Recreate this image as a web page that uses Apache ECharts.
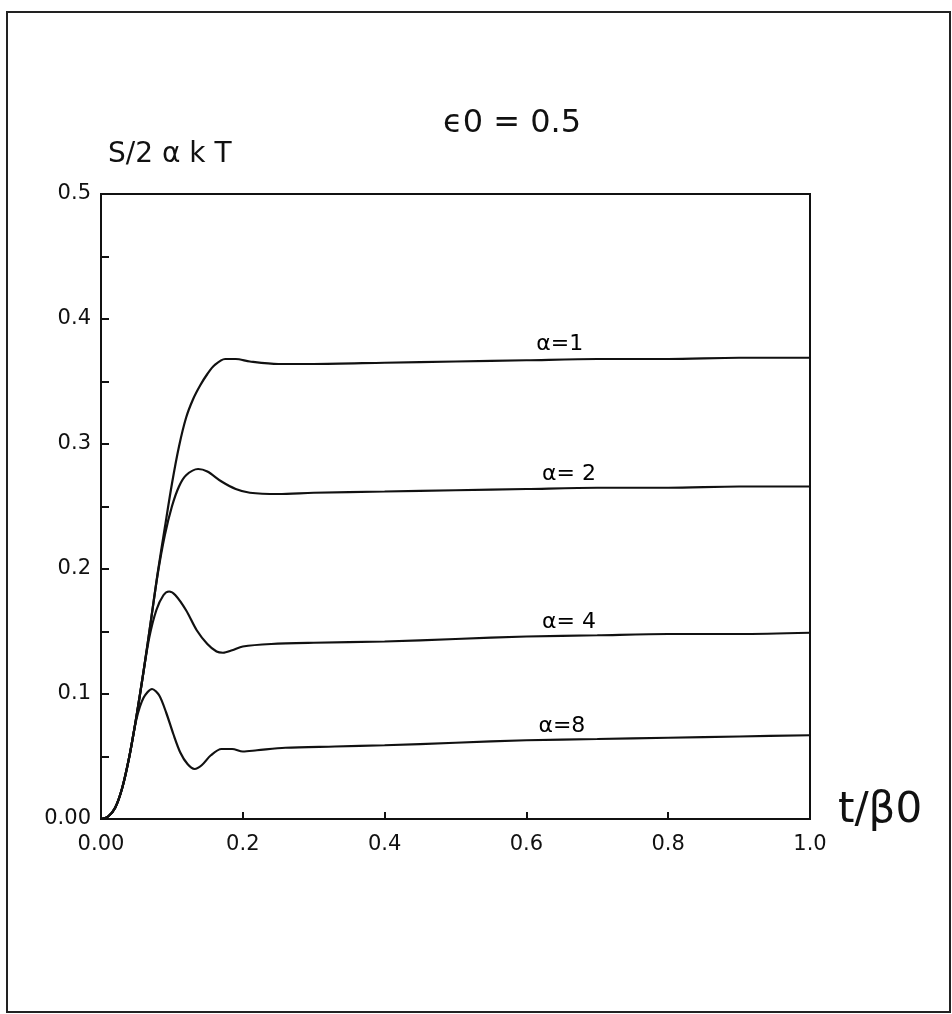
<!DOCTYPE html>
<html>
<head>
<meta charset="utf-8">
<script src="https://cdn.jsdelivr.net/npm/echarts@6/dist/echarts.min.js"></script>
<style>
html,body{margin:0;padding:0;background:#fff;}
#chart{width:952px;height:1014px;}
</style>
</head>
<body>
<div id="chart"></div>
<script>
// ---- data ----
var xTickLabels = ['0.00', '0.2', '0.4', '0.6', '0.8', '1.0'];
var yTickLabels = ['0.00', '0.1', '0.2', '0.3', '0.4', '0.5'];

var alpha1 = [[0,0],[0.01,0.002],[0.02,0.009],[0.03,0.025],[0.04,0.05],[0.05,0.082],[0.06,0.118],[0.07,0.157],[0.08,0.197],[0.09,0.233],[0.1,0.268],[0.11,0.298],[0.12,0.321],[0.13,0.336],[0.14,0.347],[0.15,0.356],[0.16,0.363],[0.175,0.368],[0.19,0.368],[0.21,0.366],[0.25,0.364],[0.3,0.364],[0.4,0.365],[0.5,0.366],[0.6,0.367],[0.7,0.368],[0.8,0.368],[0.9,0.369],[1.0,0.369]];
var alpha2 = [[0,0],[0.01,0.002],[0.02,0.009],[0.03,0.025],[0.04,0.05],[0.05,0.082],[0.06,0.118],[0.07,0.157],[0.08,0.196],[0.09,0.227],[0.1,0.25],[0.11,0.266],[0.12,0.275],[0.137,0.28],[0.15,0.278],[0.17,0.27],[0.19,0.264],[0.21,0.261],[0.25,0.26],[0.3,0.261],[0.4,0.262],[0.5,0.263],[0.6,0.264],[0.7,0.265],[0.8,0.265],[0.9,0.266],[1.0,0.266]];
var alpha4 = [[0,0],[0.01,0.002],[0.02,0.009],[0.03,0.025],[0.04,0.05],[0.05,0.082],[0.06,0.118],[0.068,0.145],[0.078,0.167],[0.088,0.179],[0.096,0.182],[0.105,0.179],[0.12,0.167],[0.135,0.151],[0.15,0.14],[0.163,0.134],[0.172,0.133],[0.185,0.135],[0.2,0.138],[0.24,0.14],[0.3,0.141],[0.4,0.142],[0.5,0.144],[0.6,0.146],[0.7,0.147],[0.8,0.148],[0.9,0.148],[1.0,0.149]];
var alpha8 = [[0,0],[0.01,0.002],[0.02,0.009],[0.03,0.025],[0.04,0.05],[0.05,0.08],[0.06,0.097],[0.072,0.104],[0.082,0.099],[0.092,0.085],[0.102,0.068],[0.112,0.053],[0.122,0.044],[0.132,0.04],[0.142,0.043],[0.155,0.051],[0.17,0.056],[0.185,0.056],[0.2,0.054],[0.22,0.055],[0.26,0.057],[0.33,0.058],[0.4,0.059],[0.5,0.061],[0.6,0.063],[0.7,0.064],[0.8,0.065],[0.9,0.066],[1.0,0.067]];

var curveLabels = [
  {name: 'α=1',  value: [0.647, 0.368]},
  {name: 'α= 2', value: [0.66, 0.264]},
  {name: 'α= 4', value: [0.66, 0.145]},
  {name: 'α=8',  value: [0.65, 0.062]}
];

var FONT = 'DejaVu Sans';
var chart = echarts.init(document.getElementById('chart'), null, {renderer: 'canvas'});

function lineSeries(d) {
  return {
    type: 'line', data: d, showSymbol: false, smooth: 0.3,
    lineStyle: {color: '#111', width: 2.2}, silent: true, animation: false, z: 3
  };
}

var option = {
  backgroundColor: '#fff',
  animation: false,
  grid: {left: 101, right: 142, top: 194, bottom: 195, show: true, borderColor: '#111', borderWidth: 2, backgroundColor: 'transparent'},
  xAxis: {
    type: 'value', min: 0, max: 1, interval: 0.2,
    axisLine: {show: true, lineStyle: {color: '#111', width: 2}},
    axisTick: {show: true, inside: true, length: 7, lineStyle: {color: '#111', width: 2}},
    splitLine: {show: false},
    axisLabel: {
      color: '#111', fontFamily: FONT, fontSize: 21, margin: 15,
      formatter: function (v) { return xTickLabels[Math.round(v / 0.2)]; }
    }
  },
  yAxis: {
    type: 'value', min: 0, max: 0.5, interval: 0.05,
    axisLine: {show: true, lineStyle: {color: '#111', width: 2}},
    axisTick: {show: true, inside: true, length: 8, lineStyle: {color: '#111', width: 2}},
    splitLine: {show: false},
    axisLabel: {
      color: '#111', fontFamily: FONT, fontSize: 21, margin: 10,
      formatter: function (v) {
        var k = Math.round(v / 0.05);
        return (k % 2 === 0) ? yTickLabels[k / 2] : '';
      }
    }
  },
  series: [
    lineSeries(alpha1), lineSeries(alpha2), lineSeries(alpha4), lineSeries(alpha8),
    {
      type: 'scatter', data: curveLabels, symbolSize: 0, silent: true, z: 4,
      itemStyle: {opacity: 1},
      label: {show: true, position: 'top', distance: 4, color: '#000', opacity: 1, fontFamily: FONT, fontSize: 22,
        formatter: function (p) { return p.name; }}
    }
  ],
  graphic: [
    {type: 'rect', shape: {x: 7, y: 12, width: 943, height: 1000}, style: {fill: 'none', stroke: '#222', lineWidth: 2}, z: -1},
    {type: 'text', left: 443, top: 108, style: {text: 'ϵ0 = 0.5', fill: '#111', font: '32px ' + FONT}},
    {type: 'text', left: 108, top: 141, style: {text: 'S/2 α k T', fill: '#111', font: '28px ' + FONT}},
    {type: 'text', left: 838, top: 790, style: {text: 't/β0', fill: '#111', font: '42px ' + FONT}}
  ]
};
chart.setOption(option);
</script>
</body>
</html>
